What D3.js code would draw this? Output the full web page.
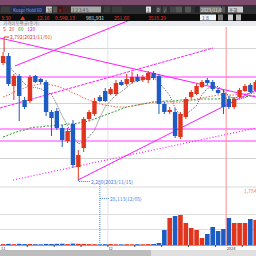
<!DOCTYPE html>
<html><head><meta charset="utf-8">
<script src="https://cdn.jsdelivr.net/npm/d3@7"></script>
<style>html,body{margin:0;padding:0;background:#fff;overflow:hidden}svg{display:block;font-family:"Noto Sans CJK KR","DejaVu Sans",sans-serif}</style>
</head><body><svg id="c" width="256" height="256"></svg>
<script>
// ---- data (daily candles, index 0..47) ----
const opens  =[2748,2776,2656,2696,2600,2596,2696,2684,2672,2552,2556,2488,2436,2504,2332,2408,2524,2544,2612,2636,2624,2624,2672,2664,2672,2692,2680,2680,2708,2696,2584,2552,2552,2452,2532,2612,2624,2652,2680,2672,2640,2628,2604,2572,2612,2636,2660,2640];
const highs  =[2792,2788,2704,2704,2612,2700,2700,2688,2680,2560,2568,2500,2488,2520,2400,2532,2560,2608,2620,2648,2652,2680,2680,2704,2712,2704,2700,2716,2716,2704,2592,2572,2568,2552,2612,2640,2664,2680,2688,2680,2648,2640,2616,2612,2648,2664,2668,2680];
const lows   =[2740,2656,2600,2516,2564,2588,2668,2664,2536,2456,2480,2412,2428,2328,2280,2392,2516,2536,2592,2592,2620,2616,2656,2656,2664,2672,2672,2668,2680,2544,2544,2544,2448,2444,2524,2604,2620,2648,2660,2636,2624,2544,2564,2564,2608,2632,2628,2632];
const closes =[2776,2664,2696,2616,2572,2692,2672,2672,2552,2528,2488,2440,2476,2340,2380,2524,2552,2596,2596,2596,2644,2668,2660,2684,2692,2676,2692,2708,2688,2584,2552,2560,2456,2544,2604,2632,2656,2672,2668,2644,2628,2572,2572,2604,2640,2656,2632,2672];
const volumes=[900,1100,800,1200,900,1000,800,700,1100,1000,1200,1300,900,1400,1200,1100,900,800,700,800,900,700,600,800,700,800,700,900,1000,2000,15000,27000,29000,30000,22000,17000,15000,7000,11000,18000,14000,16000,27000,22000,22000,22000,26000,25000];
const ma5  =[2760,2740,2712,2690,2665,2648,2650,2645,2632,2623,2582,2536,2497,2454,2425,2432,2454,2478,2530,2573,2597,2620,2633,2650,2670,2676,2681,2690,2691,2670,2645,2618,2568,2539,2543,2559,2578,2622,2646,2654,2654,2637,2617,2604,2603,2609,2621,2641];
const ma20 =[2612,2620,2632,2640,2648,2656,2660,2664,2664,2660,2656,2648,2640,2628,2620,2608,2600,2592,2584,2580,2576,2572,2572,2572,2576,2580,2584,2588,2592,2592,2592,2592,2592,2592,2596,2600,2604,2608,2612,2616,2620,2620,2620,2620,2624,2624,2628,2628];
const ma60 =[2452,2460,2468,2476,2480,2488,2492,2492,2496,2496,2500,2500,2504,2504,2508,2512,2516,2524,2532,2540,2548,2556,2564,2572,2576,2580,2584,2588,2592,2592,2596,2596,2596,2600,2600,2600,2600,2604,2604,2604,2604,2608,2608,2608,2612,2612,2616,2616];
const maLabels=["5","20","60","120"];
const dateLabels=["11","12","2024"];
const datePos=[-0.5,19.5,41.5];
const weekTicks=[4.5,9.5,14.5,19.5,24.5,29.5,34.5,39.5,44.5];
// drawn trend lines: [x1,p1,x2,p2]
const trendSolid=[[-0.58,2848,47.05,2612],[2.2,2736,23.6,2920],[13.93,2280,47.05,2640]];
const trendDash=[[-0.58,2568,39.05,2808]];
const trendDot=[[1.84,2280,47.05,2488]];
const levels=[2692,2484,2436];
const yearLine=41.5;

const RED="#e0341c", BLUE="#1c5cc4";
const svg=d3.select("#c");
const x=d3.scaleLinear().domain([0,47]).range([3.1,255.7]);
const y=d3.scaleLinear().domain([2020,2912]).range([245,22]);
const v=d3.scaleLinear().domain([0,57000]).range([245,188]);

// ---- chrome ----
svg.append("rect").attr("width",256).attr("height",256).attr("fill","#fff");
svg.append("rect").attr("width",256).attr("height",5).attr("fill","#7c4a6c");
svg.append("rect").attr("y",5).attr("width",256).attr("height",9).attr("fill","#2f2f31");
svg.append("rect").attr("y",14).attr("width",256).attr("height",7).attr("fill","#0d0d0d");
svg.append("rect").attr("y",21).attr("width",256).attr("height",5).attr("fill","#e9e9f0");
const row1=[[1,9,"#3d3d40","",""],[12,33,"#1d2a57","Kospi Hold 60","#8fa0c8"],[46,6,"#c9c9c9","30","#333"],[53,4,"#555","",""],[58,5,"#3a1414","x","#e33"],
 [64,6,"#442222","",""],[71,30,"#a9a9a9","1 2 3 4 5","#444"],[104,6,"#3d3d3d","",""],[112,10,"#3d3d3d","",""],[146,5,"#dcdcdc","1","#333"],[156,5,"#444","0","#ccc"],
 [163,4,"#444","/","#ccc"],[170,6,"#444","",""],[176,6,"#555","",""],[185,6,"#555","",""],[195,4,"#222","",""],[200,21,"#7d7d7d","2023/11/01","#e0e0e0"],[222,3,"#555","",""],[228,15,"#cfcfcf","조회","#222"]];
row1.forEach(r=>{svg.append("rect").attr("x",r[0]).attr("y",6.5).attr("width",r[1]).attr("height",6).attr("fill",r[2]);
 if(r[3])svg.append("text").attr("x",r[0]+1).attr("y",11.7).attr("font-size",4.5).attr("fill",r[4]).text(r[3]);});
const row2=[[1,"3:30","#e53a2a"],[20,"▲","#e53a2a"],[37,"12.16","#e53a2a"],[55,"0.5%","#e53a2a"],[65,"0.13","#e53a2a"],[86,"981,931","#e6e6e6"],[114,"251,60","#e53a2a"],[148,"3510.29","#e53a2a"]];
row2.forEach(r=>svg.append("text").attr("x",r[0]).attr("y",19.5).attr("font-size",5).attr("fill",r[2]).text(r[1]));
svg.append("rect").attr("x",200).attr("y",14.5).attr("width",16).attr("height",6).attr("fill","#f4f4f4");
svg.append("text").attr("x",202).attr("y",19.5).attr("font-size",5).attr("fill","#2050c0").text("1  8");
svg.append("rect").attr("x",218).attr("y",14.5).attr("width",5).attr("height",6).attr("fill","#777");
svg.append("rect").attr("x",228).attr("y",14.5).attr("width",5).attr("height",6).attr("fill","#cfcfcf");
svg.append("rect").attr("x",236).attr("y",14.5).attr("width",5).attr("height",6).attr("fill","#bbbbbb");

// ---- grid ----
const g=svg.append("g");
[48,103,158].forEach(yy=>g.append("line").attr("x1",0).attr("x2",256).attr("y1",yy+.5).attr("y2",yy+.5).attr("stroke","#d4d4d4"));
g.append("rect").attr("x",0).attr("y",186).attr("width",256).attr("height",2).attr("fill","#ececec");
[214,229].forEach(yy=>g.append("line").attr("x1",0).attr("x2",256).attr("y1",yy+.5).attr("y2",yy+.5).attr("stroke","#dcdcdc"));
g.append("line").attr("x1",x(19.5)).attr("x2",x(19.5)).attr("y1",26).attr("y2",245).attr("stroke","#e2e2e2");

// ---- volume ----
svg.append("g").selectAll("rect").data(volumes).join("rect")
 .attr("x",(d,i)=>x(i)-2.3).attr("width",4.6).attr("y",d=>v(d)).attr("height",d=>245-v(d))
 .attr("fill",(d,i)=>closes[i]>=opens[i]?RED:BLUE);

// clip
svg.append("clipPath").attr("id","cp").append("rect").attr("x",0).attr("y",21).attr("width",256).attr("height",224);
const p=svg.append("g").attr("clip-path","url(#cp)");

// levels
levels.forEach(l=>p.append("line").attr("x1",0).attr("x2",256).attr("y1",y(l)).attr("y2",y(l)).attr("stroke","#ff9cff").attr("stroke-width",1.8));
// year line
p.append("line").attr("x1",x(yearLine)).attr("x2",x(yearLine)).attr("y1",27).attr("y2",245).attr("stroke","#ff8c8c").attr("stroke-width",1);

// MAs
const lg=d3.line().x((d,i)=>x(i)).y(d=>y(d));
p.append("path").attr("d",lg(ma60)).attr("fill","none").attr("stroke","#2a9a2a").attr("stroke-dasharray","2,1.5");
p.append("path").attr("d",lg(ma20)).attr("fill","none").attr("stroke","#f06050").attr("stroke-dasharray","1.5,1.5");
p.append("path").attr("d",lg(ma5)).attr("fill","none").attr("stroke","#555").attr("stroke-dasharray","1,1.2");

// trend lines
const tl=(arr,dash,w)=>arr.forEach(t=>p.append("line").attr("x1",x(t[0])).attr("y1",y(t[1])).attr("x2",x(t[2])).attr("y2",y(t[3])).attr("stroke","#ff1aff").attr("stroke-width",w).attr("stroke-dasharray",dash));
tl(trendSolid,null,1);tl(trendDash,"3,1",1);tl(trendDot,"1,2",1.2);

// candles
const cg=p.append("g");
opens.forEach((o,i)=>{const c=closes[i],col=c>=o?RED:BLUE;
 cg.append("line").attr("x1",x(i)).attr("x2",x(i)).attr("y1",y(highs[i])).attr("y2",y(lows[i])).attr("stroke",col);
 const t=y(Math.max(o,c)),b=y(Math.min(o,c));
 cg.append("rect").attr("x",x(i)-2.2).attr("width",4.4).attr("y",t).attr("height",Math.max(1,b-t)).attr("fill",col);});

// high/low annotations
const hi=0, lo=14;
p.append("path").attr("d",`M${x(hi)+1},${y(highs[hi])}V37H9`).attr("fill","none").attr("stroke","#e03030");
svg.append("text").attr("x",10).attr("y",39).attr("font-size",5).attr("fill","#e03030").text("2,792(2023/11/01)");
p.append("path").attr("d",`M${x(lo)},${y(lows[lo])}V181.5H90`).attr("fill","none").attr("stroke","#3a78d8").attr("stroke-dasharray","1,1");
svg.append("text").attr("x",91).attr("y",184).attr("font-size",5).attr("fill","#3a78d8").text("2,280(2023/11/15)");
p.append("path").attr("d",`M${x(18)},184V245M${x(18)},198.5H109`).attr("fill","none").attr("stroke","#4a88e0").attr("stroke-dasharray","1,1");
svg.append("text").attr("x",110).attr("y",200.5).attr("font-size",5).attr("fill","#4a88e0").text("28,113(12/05)");
svg.append("text").attr("x",244).attr("y",193).attr("font-size",5).attr("fill","#f08080").text("1,784");

// legend texts
svg.append("text").attr("x",3).attr("y",25).attr("font-size",4.5).attr("fill","#777").text("가격이동평균(종가)");
const lc=["#e03030","#e06030","#2a9a2a","#b030d0"];
let lx=3;
maLabels.forEach((m,k)=>{svg.append("text").attr("x",lx).attr("y",31).attr("font-size",5).attr("fill",lc[k]).text(m);lx+=m.length*3+3;});

// axis
svg.append("line").attr("x1",0).attr("x2",256).attr("y1",245.5).attr("y2",245.5).attr("stroke","#9aa0b0");
weekTicks.forEach(t=>svg.append("line").attr("x1",x(t)).attr("x2",x(t)).attr("y1",245).attr("y2",247).attr("stroke","#444"));
dateLabels.forEach((d,k)=>svg.append("text").attr("x",x(datePos[k])+0.5).attr("y",249.5).attr("font-size",4).attr("fill","#333").text(d));
svg.append("rect").attr("y",250).attr("width",256).attr("height",6).attr("fill","#e0e0e0");
svg.append("rect").attr("y",250).attr("width",151).attr("height",6).attr("fill","#bdbdbd");
</script></body></html>
